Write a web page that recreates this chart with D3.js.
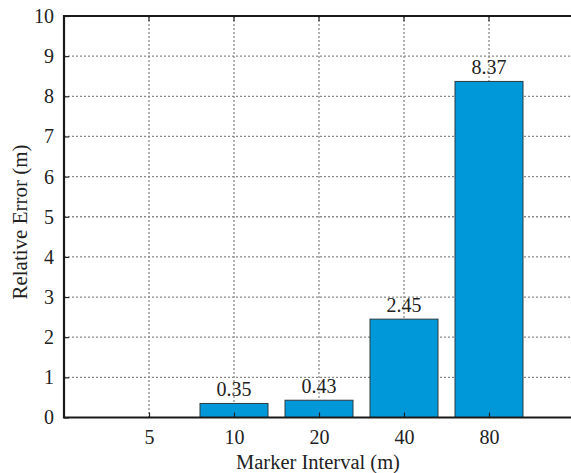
<!DOCTYPE html>
<html>
<head>
<meta charset="utf-8">
<script src="https://cdn.jsdelivr.net/npm/d3@7"></script>
<style>
  body { margin: 0; background: #fff; }
  svg text { font-family: "Liberation Serif", "DejaVu Serif", "Times New Roman", serif !important; fill: #222; }
</style>
</head>
<body>
<svg id="chart" width="571" height="473"></svg>
<script>
// data
var intervals = ["5", "10", "20", "40", "80"];
var errors = [0, 0.35, 0.43, 2.45, 8.37];
var labels = ["", "0.35", "0.43", "2.45", "8.37"];
var yTicks = [0, 1, 2, 3, 4, 5, 6, 7, 8, 9, 10];

var svg = d3.select("#chart");
// (window.top is read-only, so plot edges get their own names)
var pLeft = 64, pTop = 16, pBottom = 417.5, pRight = 574;

// slot positions 0..6, categories sit on 1..5
var x = d3.scaleLinear().domain([0, 6]).range([pLeft, pRight]);
var y = d3.scaleLinear().domain([0, 10]).range([pBottom, pTop]);
var unit = x(1) - x(0);
var barW = unit * 0.8;

var g = svg.append("g");

// grid
g.selectAll(".hgrid")
  .data(yTicks.slice(1, -1))
  .enter()
  .append("line")
  .attr("x1", pLeft).attr("x2", pRight)
  .attr("y1", function (d) { return y(d); })
  .attr("y2", function (d) { return y(d); })
  .attr("stroke", "#8a8a8a")
  .attr("stroke-width", 1.3)
  .attr("stroke-dasharray", "2,2");

g.selectAll(".vgrid")
  .data(intervals)
  .enter()
  .append("line")
  .attr("x1", function (d, i) { return x(i + 1); })
  .attr("x2", function (d, i) { return x(i + 1); })
  .attr("y1", pTop).attr("y2", pBottom)
  .attr("stroke", "#8a8a8a")
  .attr("stroke-width", 1.3)
  .attr("stroke-dasharray", "2,2");

// bars
g.selectAll(".bar")
  .data(errors)
  .enter()
  .append("rect")
  .attr("x", function (d, i) { return x(i + 1) - barW / 2; })
  .attr("y", function (d) { return y(d); })
  .attr("width", barW)
  .attr("height", function (d) { return pBottom - y(d); })
  .attr("fill", "#0098d8")
  .attr("stroke", "#2d3a40")
  .attr("stroke-width", function (d) { return d > 0 ? 1 : 0; });

// value labels
g.selectAll(".val")
  .data(labels)
  .enter()
  .append("text")
  .attr("x", function (d, i) { return x(i + 1); })
  .attr("y", function (d, i) { return y(errors[i]) - 7; })
  .attr("text-anchor", "middle")
  .style("font-size", "20px")
  .text(function (d) { return d; });

// axes
var yAxis = d3.axisLeft(y).tickValues(yTicks).tickSize(-5).tickPadding(10);
var ay = svg.append("g").attr("transform", "translate(" + pLeft + ",0)").call(yAxis);
ay.select(".domain").remove();
ay.selectAll(".tick line").attr("stroke", "#222").attr("stroke-width", 1.2);
ay.selectAll("text").style("font-size", "20px").attr("fill", "#222");

var xAxis = d3.axisBottom(x)
  .tickValues([1, 2, 3, 4, 5])
  .tickFormat(function (d) { return intervals[d - 1]; })
  .tickSize(-5).tickPadding(12);
var ax = svg.append("g").attr("transform", "translate(0," + pBottom + ")").call(xAxis);
ax.select(".domain").remove();
ax.selectAll(".tick line").attr("stroke", "#222").attr("stroke-width", 1.2);
ax.selectAll("text").style("font-size", "20px").attr("fill", "#222");

// top tick marks
svg.selectAll(".ttick")
  .data([1, 2, 3, 4, 5])
  .enter()
  .append("line")
  .attr("x1", function (d) { return x(d); })
  .attr("x2", function (d) { return x(d); })
  .attr("y1", pTop).attr("y2", pTop + 5)
  .attr("stroke", "#222").attr("stroke-width", 1.2);

// frame
svg.append("path")
  .attr("d", "M" + pRight + "," + pTop + "H" + pLeft + "V" + pBottom + "H" + pRight)
  .attr("fill", "none")
  .attr("stroke", "#1a1a1a")
  .attr("stroke-width", 2.2);

// axis titles
svg.append("text")
  .attr("x", 318)
  .attr("y", 469)
  .attr("text-anchor", "middle")
  .style("font-size", "20.5px")
  .text("Marker Interval (m)");

svg.append("text")
  .attr("transform", "translate(27,222) rotate(-90)")
  .attr("text-anchor", "middle")
  .style("font-size", "21px")
  .text("Relative Error (m)");
</script>
</body>
</html>
